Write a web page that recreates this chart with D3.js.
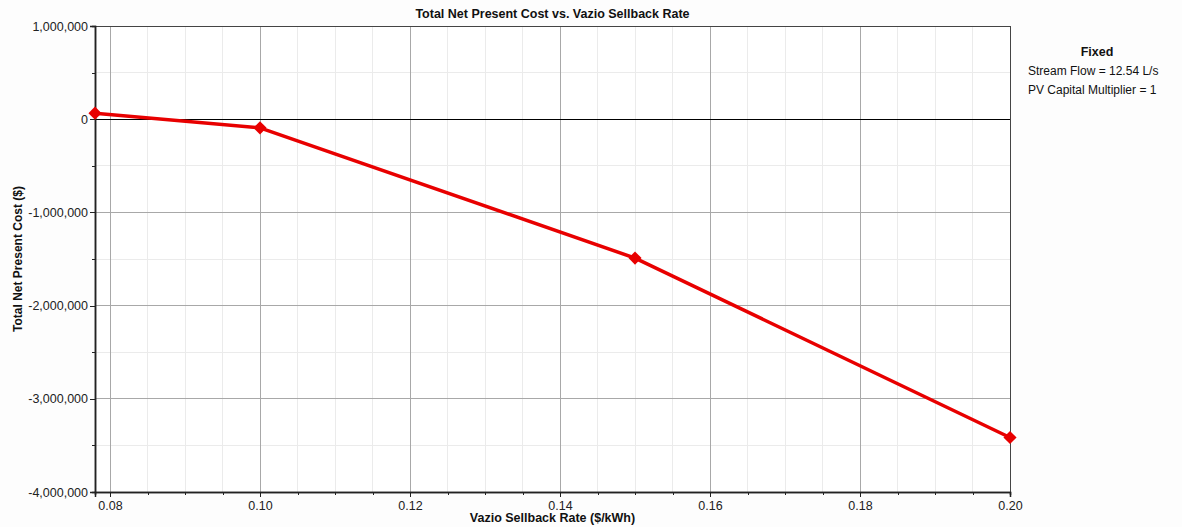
<!DOCTYPE html>
<html>
<head>
<meta charset="utf-8">
<script src="https://cdn.jsdelivr.net/npm/d3@7"></script>
<style>
  html, body { margin: 0; padding: 0; background: #fdfdfd; }
  svg { display: block; font-family: "Liberation Sans", Arial, sans-serif; }
</style>
</head>
<body>
<svg id="chart" width="1182" height="527"></svg>
<script>
// Sensitivity results: sellback rate ($/kWh) vs total net present cost ($)
const sellbackRates = [0.078, 0.10, 0.15, 0.20];
const netPresentCost = [65000, -93000, -1490000, -3415000];

const xMajorTicks = [0.08, 0.10, 0.12, 0.14, 0.16, 0.18, 0.20];
const yMajorTicks = [1000000, 0, -1000000, -2000000, -3000000, -4000000];

const chartTitle = "Total Net Present Cost vs. Vazio Sellback Rate";
const xTitle = "Vazio Sellback Rate ($/kWh)";
const yTitle = "Total Net Present Cost ($)";
const legendTitle = "Fixed";
const legendLines = ["Stream Flow = 12.54 L/s", "PV Capital Multiplier = 1"];

const svg = d3.select("#chart");
const margin = { left: 95, right: 1010, top: 26, bottom: 492 };

const x = d3.scaleLinear().domain([0.078, 0.20]).range([margin.left, margin.right]);
const y = d3.scaleLinear().domain([-4000000, 1000000]).range([margin.bottom, margin.top]);

const xMinor = d3.range(0.08, 0.2001, 0.005).filter(v => x(v) >= margin.left);
const yMinor = d3.range(-4000000, 1000001, 500000);

const plotW = margin.right - margin.left;
const plotH = margin.bottom - margin.top;

// plain hyphen for negatives, thousands separators
const fmtComma = d3.format(",");
const fmtY = v => fmtComma(v).replace("\u2212", "-");

svg.append("rect")
  .attr("x", margin.left).attr("y", margin.top)
  .attr("width", plotW).attr("height", plotH)
  .attr("fill", "#ffffff");

// minor grid
const g = svg.append("g");
g.selectAll(".xminor").data(xMinor).join("line")
  .attr("x1", d => x(d)).attr("x2", d => x(d))
  .attr("y1", margin.top).attr("y2", margin.bottom)
  .attr("stroke", "#ebebeb").attr("stroke-width", 1)
  .attr("shape-rendering", "crispEdges");
g.selectAll(".yminor").data(yMinor).join("line")
  .attr("y1", d => y(d)).attr("y2", d => y(d))
  .attr("x1", margin.left).attr("x2", margin.right)
  .attr("stroke", "#ebebeb").attr("stroke-width", 1)
  .attr("shape-rendering", "crispEdges");

// major grid
g.selectAll(".xmajor").data(xMajorTicks).join("line")
  .attr("x1", d => x(d)).attr("x2", d => x(d))
  .attr("y1", margin.top).attr("y2", margin.bottom)
  .attr("stroke", "#a8a8a8").attr("stroke-width", 1)
  .attr("shape-rendering", "crispEdges");
g.selectAll(".ymajor").data(yMajorTicks).join("line")
  .attr("y1", d => y(d)).attr("y2", d => y(d))
  .attr("x1", margin.left).attr("x2", margin.right)
  .attr("stroke", "#a8a8a8").attr("stroke-width", 1)
  .attr("shape-rendering", "crispEdges");

// zero line
svg.append("line")
  .attr("x1", margin.left).attr("x2", margin.right)
  .attr("y1", y(0)).attr("y2", y(0))
  .attr("stroke", "#000").attr("stroke-width", 1)
  .attr("shape-rendering", "crispEdges");

// frame
svg.append("rect")
  .attr("x", margin.left).attr("y", margin.top)
  .attr("width", plotW).attr("height", plotH)
  .attr("fill", "none").attr("stroke", "#444").attr("stroke-width", 1)
  .attr("shape-rendering", "crispEdges");

// axes
const xAxis = svg.append("g")
  .attr("transform", `translate(0,${margin.bottom})`)
  .call(d3.axisBottom(x).tickValues(xMajorTicks).tickFormat(d3.format(".2f")).tickSize(5).tickPadding(4));
const xAxisMinor = svg.append("g")
  .attr("transform", `translate(0,${margin.bottom})`)
  .call(d3.axisBottom(x).tickValues(xMinor.filter(v => !xMajorTicks.some(t => Math.abs(t - v) < 1e-9))).tickFormat("").tickSize(3));
const yAxis = svg.append("g")
  .attr("transform", `translate(${margin.left},0)`)
  .call(d3.axisLeft(y).tickValues(yMajorTicks).tickFormat(fmtY).tickSize(5).tickPadding(2));
const yAxisMinor = svg.append("g")
  .attr("transform", `translate(${margin.left},0)`)
  .call(d3.axisLeft(y).tickValues(yMinor.filter(v => v % 1000000 !== 0)).tickFormat("").tickSize(3));

[xAxis, xAxisMinor, yAxis, yAxisMinor].forEach(a => {
  a.select(".domain").attr("stroke", "#222").attr("stroke-width", 1.5);
  a.selectAll(".tick line").attr("stroke", "#222").attr("shape-rendering", "crispEdges");
  a.selectAll(".tick text")
    .attr("font-family", "'Liberation Sans', Arial, sans-serif")
    .attr("font-size", 12.5).attr("fill", "#222");
});

// series line
const pts = sellbackRates.map((r, i) => [r, netPresentCost[i]]);
svg.append("path")
  .datum(pts)
  .attr("d", d3.line().x(d => x(d[0])).y(d => y(d[1])))
  .attr("fill", "none").attr("stroke", "#e80000").attr("stroke-width", 3.5)
  .attr("stroke-linejoin", "round");

// diamond markers
svg.selectAll(".marker").data(pts).join("path")
  .attr("transform", d => `translate(${x(d[0])},${y(d[1])})`)
  .attr("d", d3.symbol().type(d3.symbolDiamond2).size(110))
  .attr("fill", "#e80000");

// titles
svg.append("text")
  .attr("x", (margin.left + margin.right) / 2).attr("y", 18)
  .attr("text-anchor", "middle").attr("font-weight", "bold").attr("font-size", 12.5)
  .attr("fill", "#111").text(chartTitle);
svg.append("text")
  .attr("x", (margin.left + margin.right) / 2).attr("y", 522)
  .attr("text-anchor", "middle").attr("font-weight", "bold").attr("font-size", 12.5)
  .attr("fill", "#111").text(xTitle);
svg.append("text")
  .attr("transform", `translate(22,${(margin.top + margin.bottom) / 2}) rotate(-90)`)
  .attr("text-anchor", "middle").attr("font-weight", "bold").attr("font-size", 12)
  .attr("fill", "#111").text(yTitle);

// legend of fixed variables
svg.append("text")
  .attr("x", 1097).attr("y", 56)
  .attr("text-anchor", "middle").attr("font-weight", "bold").attr("font-size", 12.5)
  .attr("fill", "#111").text(legendTitle);
svg.selectAll(".legendline").data(legendLines).join("text")
  .attr("x", 1028).attr("y", (d, i) => 75 + i * 19)
  .attr("font-size", 12).attr("fill", "#111").text(d => d);
</script>
</body>
</html>
